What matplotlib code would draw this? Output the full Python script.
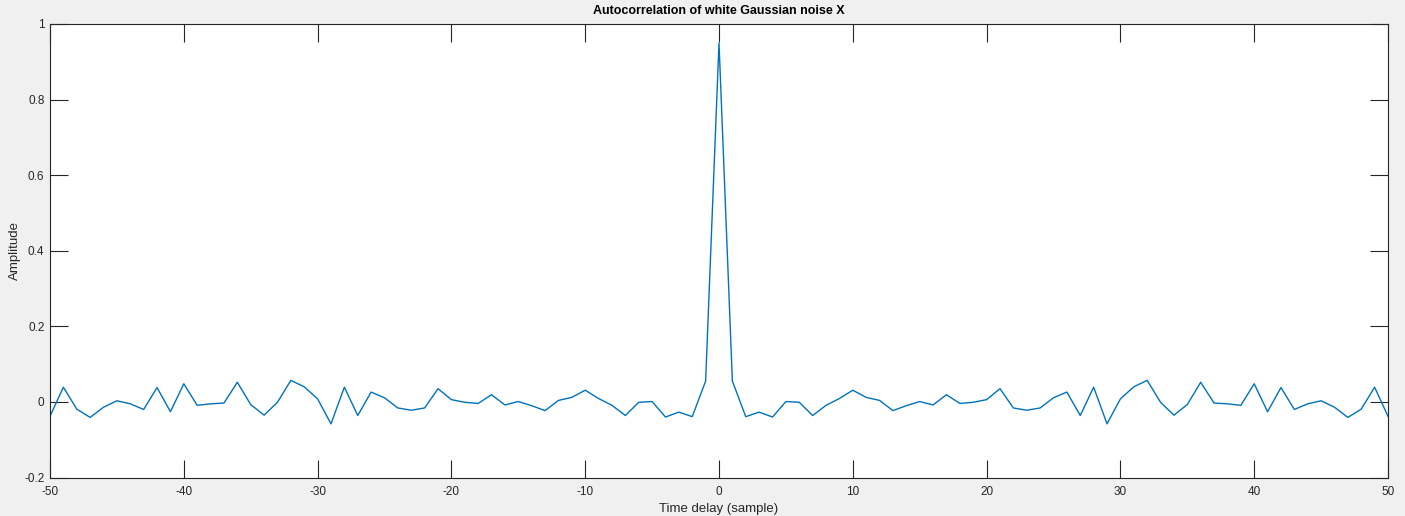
import numpy as np
import matplotlib
matplotlib.use("Agg")
import matplotlib.pyplot as plt

# Autocorrelation estimate for lags 1..50 (mirrored for negative lags)
lag_positive_vals = [
    0.055, -0.039, -0.027, -0.040, 0.001, -0.001, -0.036, -0.009, 0.009, 0.031,
    0.012, 0.004, -0.023, -0.010, 0.001, -0.008, 0.019, -0.004, -0.001, 0.006,
    0.035, -0.016, -0.022, -0.016, 0.011, 0.026, -0.036, 0.039, -0.058, 0.008,
    0.040, 0.057, -0.001, -0.035, -0.007, 0.052, -0.003, -0.005, -0.009, 0.048,
    -0.026, 0.038, -0.020, -0.005, 0.003, -0.014, -0.041, -0.019, 0.039, -0.038,
]
zero_lag_val = 0.95

lags = np.arange(-50, 51)
acf = np.concatenate([lag_positive_vals[::-1], [zero_lag_val], lag_positive_vals])

x_ticks = [-50, -40, -30, -20, -10, 0, 10, 20, 30, 40, 50]
y_ticks = [-0.2, 0, 0.2, 0.4, 0.6, 0.8, 1]
y_tick_labels = ["-0.2", "0", "0.2", "0.4", "0.6", "0.8", "1"]

plt.rcParams["font.family"] = ["Liberation Sans", "DejaVu Sans"]

fig = plt.figure(figsize=(14.05, 5.16), dpi=100, facecolor="#f0f0f0")
ax = fig.add_axes([50 / 1405, (516 - 477.5) / 516, (1388 - 50) / 1405, (477.5 - 24) / 516])
ax.set_facecolor("white")

ax.plot(lags, acf, color="#0072BD", linewidth=1.0)

ax.set_xlim(-50, 50)
ax.set_ylim(-0.2, 1)
ax.set_xticks(x_ticks)
ax.set_xticklabels([str(t) for t in x_ticks])
ax.set_yticks(y_ticks)
ax.set_yticklabels(y_tick_labels)

ax.tick_params(direction="in", length=13, width=0.8, color="#262626",
               top=True, right=True, labelsize=8.5, labelcolor="#262626", pad=4)
ax.tick_params(axis="x", pad=6)
for s in ax.spines.values():
    s.set_color("#262626")
    s.set_linewidth(0.8)

ax.set_title("Autocorrelation of white Gaussian noise X", fontsize=9,
             fontweight="bold", color="black", pad=7)
ax.set_xlabel("Time delay (sample)", fontsize=9.5, color="#262626", labelpad=4)
ax.set_ylabel("Amplitude", fontsize=9.5, color="#262626", labelpad=2)

fig.savefig("out.png", dpi=100, facecolor=fig.get_facecolor())
